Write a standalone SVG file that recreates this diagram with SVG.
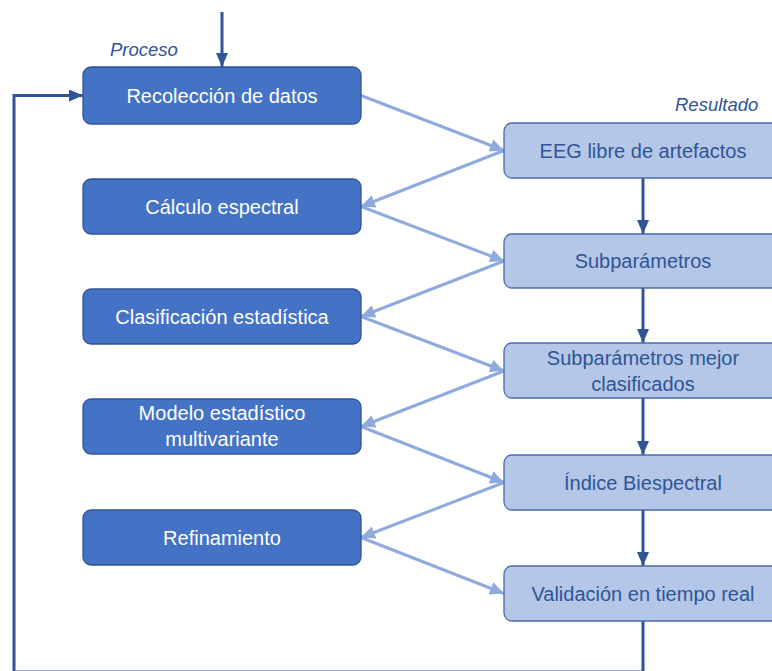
<svg xmlns="http://www.w3.org/2000/svg" width="772" height="671" viewBox="0 0 772 671">
<defs>
<style>
.pbox{fill:#4472c4;stroke:#2f5597;stroke-width:1.3}
.rbox{fill:#b4c7e7;stroke:#4a6aa8;stroke-width:1.3}
.ptxt{font-family:"Liberation Sans",Arial,sans-serif;font-size:20px;fill:#ffffff;text-anchor:middle}
.rtxt{font-family:"Liberation Sans",Arial,sans-serif;font-size:20px;fill:#2f5597;text-anchor:middle}
.lbl{font-family:"Liberation Sans",Arial,sans-serif;font-size:18.5px;font-style:italic;fill:#2f5597}
.light{fill:none;stroke:#8faadc;stroke-width:3;marker-end:url(#ah-light)}
.darka{fill:none;stroke:#2f5597;stroke-width:3;marker-end:url(#ah-dark)}
</style>
<marker id="ah-light" markerUnits="userSpaceOnUse" markerWidth="16" markerHeight="14" refX="14" refY="6.5" orient="auto">
<path d="M0,0 L14,6.5 L0,13 Z" fill="#8faadc"/>
</marker>
<marker id="ah-dark" markerUnits="userSpaceOnUse" markerWidth="16" markerHeight="12" refX="14" refY="6" orient="auto">
<path d="M0,0 L14,6 L0,12 Z" fill="#2f5597"/>
</marker>
</defs>
<rect width="772" height="671" fill="#ffffff"/>

<text class="lbl" x="110" y="56">Proceso</text>
<text class="lbl" x="675" y="111">Resultado</text>

<g id="connectors">
<path class="darka" d="M222,12 V67"/>
<path class="light" d="M361,95.5 L504,150.5"/>
<path class="light" d="M504,150.5 L361,206.5"/>
<path class="light" d="M361,206.5 L504,261"/>
<path class="light" d="M504,261 L361,316.5"/>
<path class="light" d="M361,316.5 L504,371"/>
<path class="light" d="M504,371 L361,426.5"/>
<path class="light" d="M361,426.5 L504,482.5"/>
<path class="light" d="M504,482.5 L361,537.5"/>
<path class="light" d="M361,537.5 L504,593.5"/>
<path class="darka" d="M643,178 V234"/>
<path class="darka" d="M643,288 V343"/>
<path class="darka" d="M643,398 V455"/>
<path class="darka" d="M643,510 V566"/>
<path class="darka" d="M643,621 V672 H14 V95.5 H83"/>
</g>

<g id="n1"><rect class="pbox" x="83" y="67" width="278" height="57" rx="8"/><text class="ptxt" x="222" y="102.5">Recolección de datos</text></g>
<g id="n2"><rect class="pbox" x="83" y="179" width="278" height="55" rx="8"/><text class="ptxt" x="222" y="213.5">Cálculo espectral</text></g>
<g id="n3"><rect class="pbox" x="83" y="289" width="278" height="55" rx="8"/><text class="ptxt" x="222" y="323.5">Clasificación estadística</text></g>
<g id="n4"><rect class="pbox" x="83" y="399" width="278" height="55" rx="8"/><text class="ptxt" x="222" y="420">Modelo estadístico</text><text class="ptxt" x="222" y="446">multivariante</text></g>
<g id="n5"><rect class="pbox" x="83" y="510" width="278" height="55" rx="8"/><text class="ptxt" x="222" y="544.5">Refinamiento</text></g>

<g id="r1"><rect class="rbox" x="504" y="123" width="280" height="55" rx="8"/><text class="rtxt" x="643" y="157.5">EEG libre de artefactos</text></g>
<g id="r2"><rect class="rbox" x="504" y="234" width="280" height="54" rx="8"/><text class="rtxt" x="643" y="268">Subparámetros</text></g>
<g id="r3"><rect class="rbox" x="504" y="343" width="280" height="55" rx="8"/><text class="rtxt" x="643" y="364.5">Subparámetros mejor</text><text class="rtxt" x="643" y="390.5">clasificados</text></g>
<g id="r4"><rect class="rbox" x="504" y="455" width="280" height="55" rx="8"/><text class="rtxt" x="643" y="489.5">Índice Biespectral</text></g>
<g id="r5"><rect class="rbox" x="504" y="566" width="280" height="55" rx="8"/><text class="rtxt" x="643" y="600.5">Validación en tiempo real</text></g>
</svg>
